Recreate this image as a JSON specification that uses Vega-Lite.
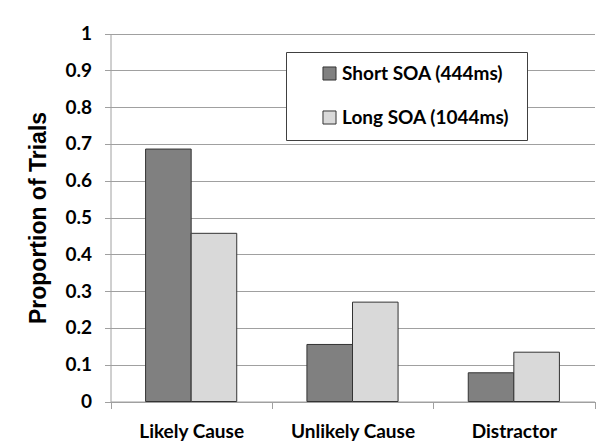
{
  "$schema": "https://vega.github.io/schema/vega-lite/v6.json",
  "autosize": {"type": "fit", "contains": "padding"},
  "padding": {"left": 10, "top": 10, "right": 0, "bottom": 0},
  "width": 611,
  "height": 448,
  "background": "white",
  "config": {
    "view": {"stroke": null},
    "font": "Lato"
  },
  "data": {
    "values": [
      {"category": "Likely Cause", "condition": "Short SOA (444ms)", "proportion": 0.686},
      {"category": "Likely Cause", "condition": "Long SOA (1044ms)", "proportion": 0.457},
      {"category": "Unlikely Cause", "condition": "Short SOA (444ms)", "proportion": 0.155},
      {"category": "Unlikely Cause", "condition": "Long SOA (1044ms)", "proportion": 0.27},
      {"category": "Distractor", "condition": "Short SOA (444ms)", "proportion": 0.078},
      {"category": "Distractor", "condition": "Long SOA (1044ms)", "proportion": 0.134}
    ]
  },
  "mark": {"type": "bar", "stroke": "#333333", "strokeWidth": 1},
  "encoding": {
    "x": {
      "field": "category",
      "type": "nominal",
      "sort": ["Likely Cause", "Unlikely Cause", "Distractor"],
      "scale": {"range": [100.5, 584.5], "paddingInner": 0, "paddingOuter": 0},
      "axis": {
        "title": null,
        "orient": "bottom",
        "offset": {"signal": "391.5 - height"},
        "tickBand": "extent",
        "labelAngle": 0,
        "labelFont": "Lato",
        "labelFontWeight": "bold",
        "labelFontSize": 19,
        "labelColor": "#000000",
        "labelPadding": 14,
        "tickSize": 7,
        "tickColor": "#a0a0a0",
        "domainColor": "#a0a0a0",
        "grid": false
      }
    },
    "xOffset": {
      "field": "condition",
      "type": "nominal",
      "sort": ["Short SOA (444ms)", "Long SOA (1044ms)"],
      "scale": {"paddingInner": 0, "paddingOuter": 0.77}
    },
    "y": {
      "field": "proportion",
      "type": "quantitative",
      "scale": {"domain": [0, 1], "range": [391.5, 23.5], "nice": false, "zero": true},
      "axis": {
        "title": "Proportion of Trials",
        "titleFont": "Liberation Sans",
        "titleFontWeight": "bold",
        "titleFontSize": 23,
        "titleColor": "#000000",
        "titlePadding": 14,
        "offset": -100.5,
        "values": [0, 0.1, 0.2, 0.3, 0.4, 0.5, 0.6, 0.7, 0.8, 0.9, 1],
        "format": ".1~f",
        "labelFont": "Lato",
        "labelFontWeight": "bold",
        "labelFontSize": 19,
        "labelColor": "#000000",
        "labelPadding": 13,
        "tickSize": 6,
        "tickColor": "#a0a0a0",
        "domainColor": "#a0a0a0",
        "grid": true,
        "gridColor": "#a0a0a0",
        "gridWidth": 1
      }
    },
    "color": {
      "field": "condition",
      "type": "nominal",
      "sort": ["Short SOA (444ms)", "Long SOA (1044ms)"],
      "scale": {"domain": ["Short SOA (444ms)", "Long SOA (1044ms)"], "range": ["#808080", "#d9d9d9"]},
      "legend": {
        "title": "\u00a0",
        "titleOrient": "right",
        "titlePadding": 6,
        "titleFontSize": 20,
        "orient": "none",
        "legendX": 276,
        "legendY": 42,
        "padding": 12,
        "symbolOffset": 22,
        "strokeColor": "#404040",
        "fillColor": "#ffffff",
        "symbolType": "square",
        "symbolSize": 170,
        "symbolStrokeColor": "#333333",
        "symbolStrokeWidth": 1,
        "labelFont": "Lato",
        "labelFontWeight": "bold",
        "labelFontSize": 19,
        "labelColor": "#000000",
        "labelOffset": 3,
        "labelLimit": 300,
        "rowPadding": 24
      }
    }
  }
}
